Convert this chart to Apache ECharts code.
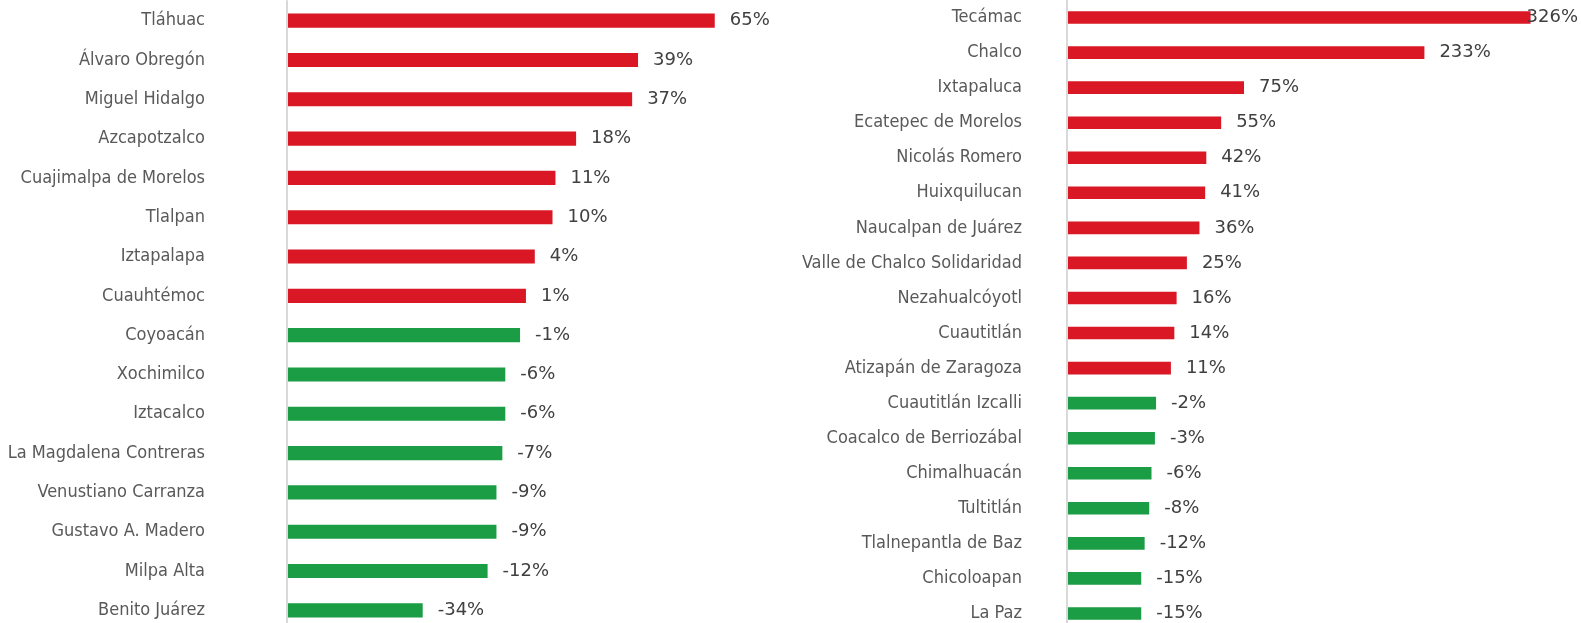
<!DOCTYPE html>
<html>
<head>
<meta charset="utf-8">
<script src="https://cdn.jsdelivr.net/npm/echarts@6/dist/echarts.min.js"></script>
<style>
  html, body { margin: 0; padding: 0; background: #fff; }
  #main { width: 1581px; height: 623px; }
</style>
</head>
<body>
<div id="main"></div>
<script>
// CDMX alcaldías
const cdmxNames = ['Tláhuac', 'Álvaro Obregón', 'Miguel Hidalgo', 'Azcapotzalco', 'Cuajimalpa de Morelos',
  'Tlalpan', 'Iztapalapa', 'Cuauhtémoc', 'Coyoacán', 'Xochimilco', 'Iztacalco',
  'La Magdalena Contreras', 'Venustiano Carranza', 'Gustavo A. Madero', 'Milpa Alta', 'Benito Juárez'];
const cdmxValues = [65, 39, 37, 18, 11, 10, 4, 1, -1, -6, -6, -7, -9, -9, -12, -34];

// Estado de México municipios
const edomexNames = ['Tecámac', 'Chalco', 'Ixtapaluca', 'Ecatepec de Morelos', 'Nicolás Romero', 'Huixquilucan',
  'Naucalpan de Juárez', 'Valle de Chalco Solidaridad', 'Nezahualcóyotl', 'Cuautitlán',
  'Atizapán de Zaragoza', 'Cuautitlán Izcalli', 'Coacalco de Berriozábal', 'Chimalhuacán',
  'Tultitlán', 'Tlalnepantla de Baz', 'Chicoloapan', 'La Paz'];
const edomexValues = [326, 233, 75, 55, 42, 41, 36, 25, 16, 14, 11, -2, -3, -6, -8, -12, -15, -15];

const AXIS_MIN = -80;   // bars grow from here, as in the original sheet
const RED = '#DA1725';
const GREEN = '#1B9D45';
const CHART_W = 1581;
const VALUE_FONT = '18px "DejaVu Sans", sans-serif';

let measureCtx = document.createElement('canvas').getContext('2d');
measureCtx.font = VALUE_FONT;

let chart = echarts.init(document.getElementById('main'));

function catAxis(idx, names, margin) {
  return {
    type: 'category',
    gridIndex: idx,
    data: names,
    inverse: true,
    axisTick: { show: false },
    axisLine: { show: true, onZero: false, lineStyle: { color: '#D9D9D9', width: 2 } },
    axisLabel: {
      margin: margin,
      color: '#595959',
      fontSize: 18,
      fontFamily: '"Liberation Sans Narrow", "DejaVu Sans Condensed", sans-serif'
    }
  };
}

function valAxis(idx, max) {
  return {
    type: 'value',
    gridIndex: idx,
    min: AXIS_MIN,
    max: max,
    show: false,
    splitLine: { show: false }
  };
}

function renderBar(params, api) {
  let cat = api.value(1);
  let v = api.value(0);
  let start = api.coord([AXIS_MIN, cat]);
  let end = api.coord([v, cat]);
  let h = api.size([0, 1])[1] * 0.36;
  let text = v + '%';
  let tw = measureCtx.measureText(text).width;
  let tx = end[0] + 15;
  if (tx + tw > CHART_W - 3) tx = CHART_W - 3 - tw;
  return {
    type: 'group',
    children: [
      {
        type: 'rect',
        shape: { x: start[0] + 1, y: end[1] - h / 2, width: end[0] - start[0] - 1, height: h },
        style: { fill: v >= 0 ? RED : GREEN }
      },
      {
        type: 'text',
        x: tx,
        y: end[1],
        style: { text: text, fill: '#404040', font: VALUE_FONT, verticalAlign: 'middle', align: 'left' }
      }
    ]
  };
}

function barSeries(idx, values) {
  return {
    type: 'custom',
    xAxisIndex: idx,
    yAxisIndex: idx,
    silent: true,
    encode: { x: 0, y: 1 },
    data: values.map((v, i) => [v, i]),
    renderItem: renderBar
  };
}

let option = {
  animation: false,
  grid: [
    { left: 287, top: 1, width: 531, height: 629, outerBoundsMode: 'none', containLabel: false },
    { left: 1067, top: 0, width: 491, height: 631, outerBoundsMode: 'none', containLabel: false }
  ],
  xAxis: [valAxis(0, 100), valAxis(1, 350)],
  yAxis: [catAxis(0, cdmxNames, 82), catAxis(1, edomexNames, 45)],
  series: [barSeries(0, cdmxValues), barSeries(1, edomexValues)]
};

chart.setOption(option);
</script>
</body>
</html>
